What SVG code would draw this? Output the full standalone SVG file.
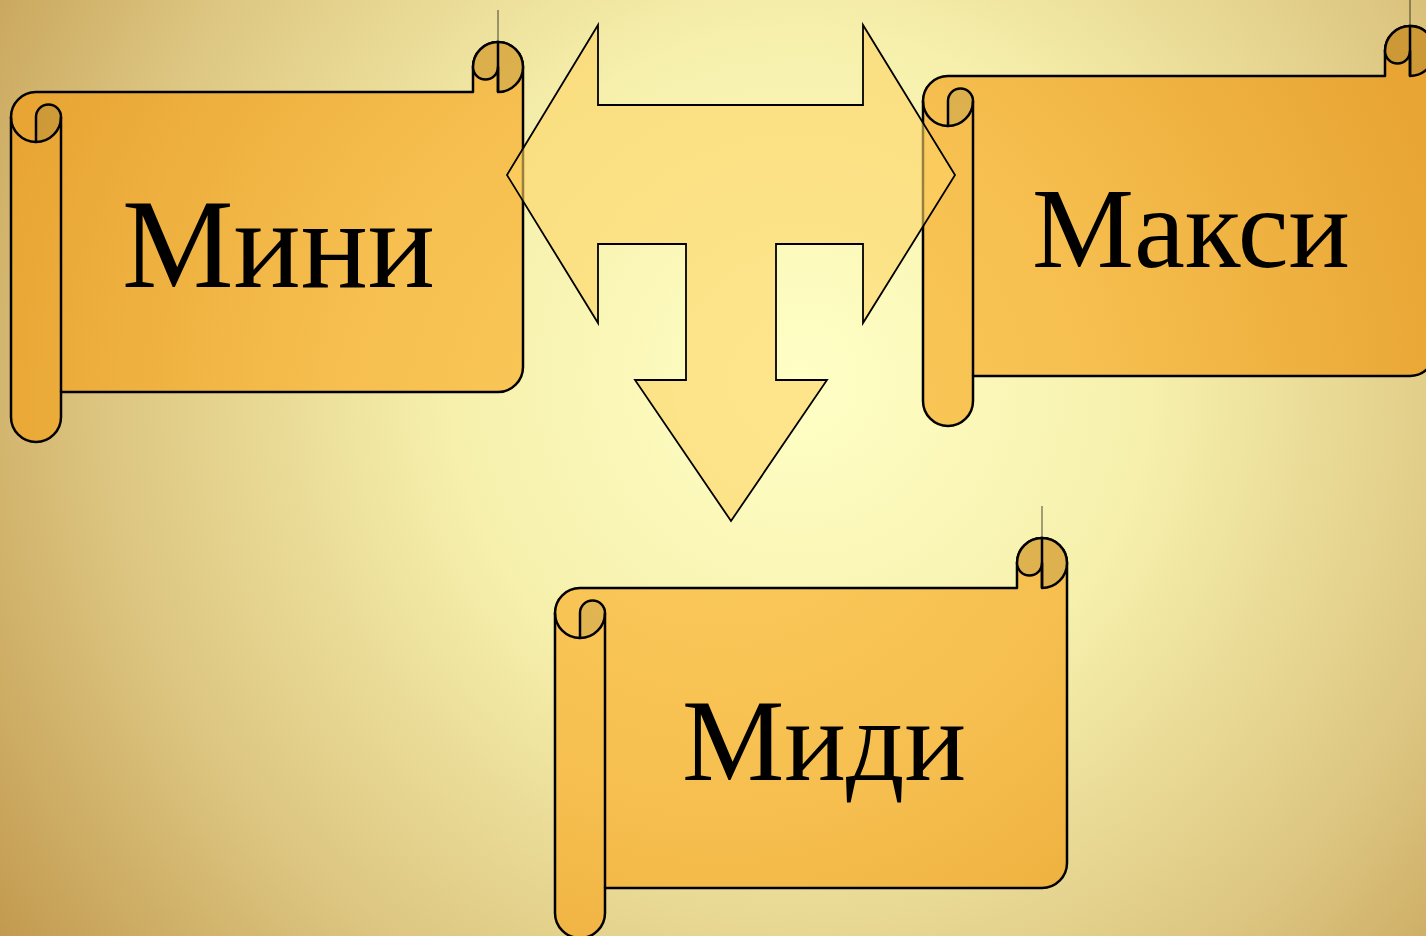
<svg xmlns="http://www.w3.org/2000/svg" xmlns:xlink="http://www.w3.org/1999/xlink" width="1426" height="936" viewBox="0 0 1426 936">
<defs>
<radialGradient id="bg" gradientUnits="userSpaceOnUse" cx="800" cy="380" r="1000">
<stop offset="0" stop-color="#FFFFC6"/>
<stop offset="0.35" stop-color="#F6F0AC"/>
<stop offset="0.7" stop-color="#DCC580"/>
<stop offset="1" stop-color="#C0964A"/>
</radialGradient>
<radialGradient id="body" gradientUnits="userSpaceOnUse" cx="720" cy="430" r="760">
<stop offset="0" stop-color="#FCCD5E"/>
<stop offset="0.5" stop-color="#F6BF4F"/>
<stop offset="1" stop-color="#E8A533"/>
</radialGradient>
<radialGradient id="dark" gradientUnits="userSpaceOnUse" cx="720" cy="430" r="760">
<stop offset="0" stop-color="#E6BA58"/>
<stop offset="0.55" stop-color="#DDB04E"/>
<stop offset="1" stop-color="#CD9936"/>
</radialGradient>
<radialGradient id="bodyMini" href="#body" xlink:href="#body" cx="709" cy="388"/>
<radialGradient id="darkMini" href="#dark" xlink:href="#dark" cx="709" cy="388"/>
<radialGradient id="bodyMaxi" href="#body" xlink:href="#body" cx="-203" cy="404"/>
<radialGradient id="darkMaxi" href="#dark" xlink:href="#dark" cx="-203" cy="404"/>
<radialGradient id="bodyMidi" href="#body" xlink:href="#body" cx="165" cy="-108"/>
<radialGradient id="darkMidi" href="#dark" xlink:href="#dark" cx="165" cy="-108"/>
<path id="outline" d="M512,25 L512,325 A25,25 0 0 1 487,350 L50,350 L50,375 A25,25 0 0 1 0,375 L0,75 A25,25 0 0 1 25,50 L462,50 L462,25 A25,25 0 0 1 512,25 Z"/>
<path id="leftDark" d="M25,75 A12.5,12.5 0 0 1 50,75 A25,25 0 0 1 25,100 Z"/>
<path id="rightDark" d="M462,25 A25,25 0 0 1 512,25 A25,25 0 0 1 487,50 L487,25 A12.5,12.5 0 0 1 462,25 Z"/>
<path id="extra" d="M0,75 A25,25 0 0 0 25,100 M50,75 L50,350 M487,0 L487,50"/>
</defs>
<style>
.ln{stroke:#000;stroke-width:2.5;stroke-linejoin:round}
.nf{fill:none}
.hair{stroke:#000;stroke-width:1;stroke-opacity:0.7;fill:none}
.lbl{font-family:"Liberation Serif","Times New Roman",serif;fill:#000;text-anchor:middle}
.arrow{fill:#FDD466;fill-opacity:0.6;stroke:#000;stroke-width:1.8;stroke-linejoin:miter}
</style>
<rect x="0" y="0" width="1426" height="936" fill="url(#bg)"/>

<g id="node-mini" transform="translate(11,42)">
<use href="#outline" xlink:href="#outline" class="ln" fill="url(#bodyMini)"/>
<use href="#leftDark" xlink:href="#leftDark" class="ln" fill="url(#darkMini)"/>
<use href="#rightDark" xlink:href="#rightDark" class="ln" fill="url(#darkMini)"/>
<use href="#extra" xlink:href="#extra" class="ln nf"/>
<path class="hair" d="M487,-32 L487,0"/>
<text class="lbl" x="267.5" y="245" font-size="127" textLength="313" lengthAdjust="spacingAndGlyphs">Мини</text>
</g>

<g id="node-maxi" transform="translate(923,26)">
<use href="#outline" xlink:href="#outline" class="ln" fill="url(#bodyMaxi)"/>
<use href="#leftDark" xlink:href="#leftDark" class="ln" fill="url(#darkMaxi)"/>
<use href="#rightDark" xlink:href="#rightDark" class="ln" fill="url(#darkMaxi)"/>
<use href="#extra" xlink:href="#extra" class="ln nf"/>
<path class="hair" d="M487,-32 L487,0"/>
<text class="lbl" x="268" y="241" font-size="114" textLength="318" lengthAdjust="spacingAndGlyphs">Макси</text>
</g>

<g id="node-midi" transform="translate(555,538)">
<use href="#outline" xlink:href="#outline" class="ln" fill="url(#bodyMidi)"/>
<use href="#leftDark" xlink:href="#leftDark" class="ln" fill="url(#darkMidi)"/>
<use href="#rightDark" xlink:href="#rightDark" class="ln" fill="url(#darkMidi)"/>
<use href="#extra" xlink:href="#extra" class="ln nf"/>
<path class="hair" d="M487,-32 L487,0"/>
<text class="lbl" x="269" y="242" font-size="116" textLength="284" lengthAdjust="spacingAndGlyphs">Миди</text>
</g>

<g id="connectors">
<path class="arrow" d="M507,175 L598,25 L598,105 L863,105 L863,25 L955,175 L863,323 L863,244 L776,244 L776,380 L827,380 L731,521 L635,380 L686,380 L686,244 L598,244 L598,323 Z"/>
</g>
</svg>
